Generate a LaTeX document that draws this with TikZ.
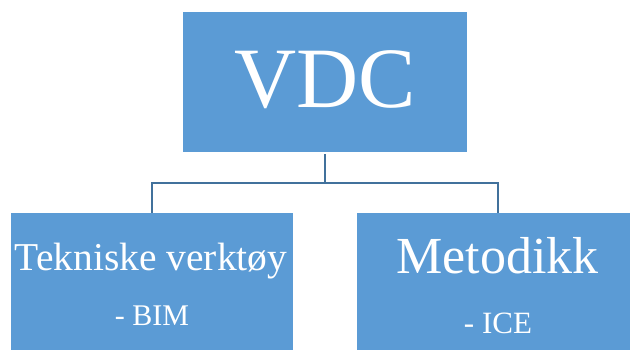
\documentclass[tikz,border=0pt]{standalone}
\usepackage{fontspec}
\setmainfont{Liberation Serif}
\definecolor{boxblue}{HTML}{5B9BD5}
\definecolor{lineblue}{HTML}{41719C}
\begin{document}
\begin{tikzpicture}[x=1pt,y=1pt,
  box/.style={draw=none,fill=boxblue,minimum width=#1,inner sep=0pt,outer sep=0pt,rectangle},
  txt/.style={text=white,anchor=base,inner sep=0pt},
  conn/.style={draw=lineblue,line width=2.2pt}]
\useasboundingbox (0,0) rectangle (630,349);
\clip (0,0) rectangle (630,349);
% top box: x 183..467, y 12..152 (px from top)
\node[box=284pt,minimum height=140pt] (top) at (325,{349-82}) {};
\node[box=282pt,minimum height=140pt] (left) at (152,{349-283}) {};
\node[box=282pt,minimum height=140pt] (right) at (498,{349-283}) {};
\node[txt,font=\fontsize{86}{90}\selectfont] (vdc) at (325,{349-108}) {VDC};
\node[txt,font=\fontsize{39.5}{42}\selectfont] (tek) at (151,{349-270}) {Tekniske verktøy};
\node[txt,font=\fontsize{30}{32}\selectfont] (bim) at (152,{349-325}) {- BIM};
\node[txt,font=\fontsize{31}{33}\selectfont] (ice) at (498,{349-333}) {- ICE};
\node[txt,font=\fontsize{52}{55}\selectfont] (met) at (497.5,{349-273}) {Metodikk};
\coordinate (bus) at (325,{349-183});
\draw[conn] ([yshift=-2pt]top.south) -- (bus);
\draw[conn] (left.north) |- (bus) -| (right.north);
\end{tikzpicture}
\end{document}
